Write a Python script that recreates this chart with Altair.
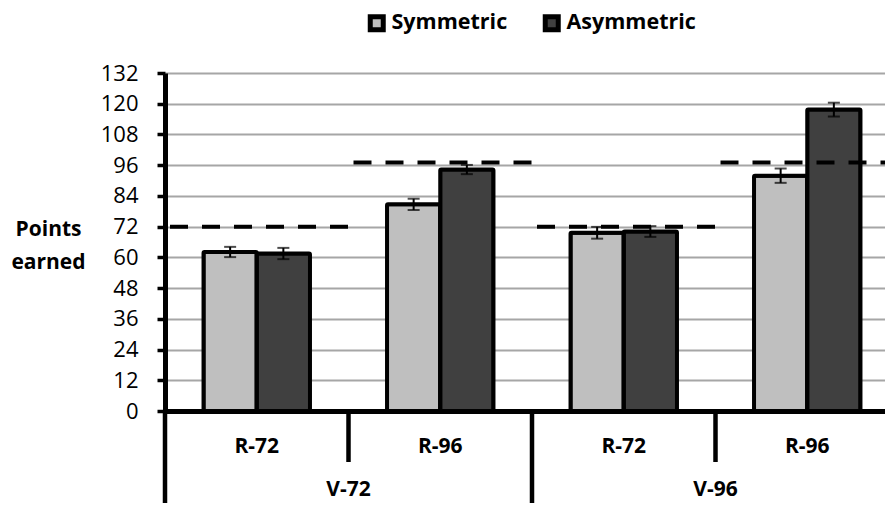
import altair as alt
import pandas as pd

# ---- data ----
v_groups = ["V-72", "V-72", "V-96", "V-96"]
r_levels = ["R-72", "R-96", "R-72", "R-96"]
series = ["Symmetric", "Asymmetric"]
sym_vals = [62.1, 80.7, 69.6, 91.9]
asym_vals = [61.5, 94.3, 70.1, 117.7]
sym_err = [2.0, 2.2, 2.3, 2.8]
asym_err = [2.2, 1.8, 2.1, 2.7]
targets = [72, 97, 72, 97]
y_ticks = [0, 12, 24, 36, 48, 60, 72, 84, 96, 108, 120, 132]
colors = ["#BFBFBF", "#404040"]

cats = [f"{v}|{r}" for v, r in zip(v_groups, r_levels)]

rows = []
for i, c in enumerate(cats):
    for s, vals, errs in (("Symmetric", sym_vals, sym_err), ("Asymmetric", asym_vals, asym_err)):
        rows.append(dict(cat=c, series=s, value=vals[i], lo=vals[i] - errs[i], hi=vals[i] + errs[i]))
bars_df = pd.DataFrame(rows)
cat_df = pd.DataFrame(dict(cat=cats, v=v_groups, r=r_levels, target=targets))
first_df = cat_df.drop_duplicates("v", keep="first")
long_sep = cat_df[cat_df["r"] == r_levels[0]]
short_sep = cat_df[cat_df["r"] != r_levels[0]]

W, H = 720, 338
PAD_BOTTOM = 92
FONT = "Open Sans"

# the category axis runs a little past the right edge, as in the reference
xs = alt.Scale(domain=cats, paddingInner=0, paddingOuter=0, range=[0, 734])
xo = alt.Scale(domain=series, paddingInner=0, paddingOuter=0.724)
ys = alt.Scale(domain=[0, 132], nice=False, zero=True)

x_axis = alt.Axis(labels=False, ticks=False, title=None, grid=False,
                  domain=True, domainColor="black", domainWidth=5)
y_axis = alt.Axis(values=y_ticks, tickSize=8, tickWidth=3.5, tickColor="black",
                  domainColor="black", domainWidth=5, grid=True, gridColor="#A6A6A6",
                  gridWidth=2, labelFontSize=22, labelFont=FONT, labelColor="black",
                  labelPadding=19, labelOverlap=False,
                  title=["Points", "earned"], titleAngle=0,
                  titleFont=FONT, titleFontSize=21, titleFontWeight="bold",
                  titleColor="black", titleX=-117, titleY=162, titleAlign="center",
                  titleBaseline="alphabetic", titleLineHeight=33)

X = alt.X("cat:N", scale=xs, axis=x_axis, sort=cats)
XO = alt.XOffset("series:N", scale=xo, sort=series)

bars = alt.Chart(bars_df).mark_bar(stroke="black", strokeWidth=4, cornerRadius=1).encode(
    x=X, xOffset=XO,
    y=alt.Y("value:Q", scale=ys, axis=y_axis),
    color=alt.Color("series:N", sort=series,
                    scale=alt.Scale(domain=series, range=colors),
                    legend=alt.Legend(orient="none", legendX=201, legendY=-61,
                                      direction="horizontal", title=None,
                                      symbolType="square", symbolSize=169,
                                      symbolStrokeColor="black", symbolStrokeWidth=5,
                                      symbolOpacity=1, labelLimit=400,
                                      labelFont=FONT, labelFontSize=21.5,
                                      labelFontWeight="bold", labelColor="black",
                                      labelOffset=4, columnPadding=27, padding=0)),
)

dashes = alt.Chart(cat_df).mark_rule(color="black", strokeWidth=4, strokeDash=[18, 14],
                                     xOffset=5, x2Offset=5).encode(
    x=alt.X("cat:N", scale=xs, axis=x_axis, bandPosition=0, sort=cats),
    x2=alt.X2("cat:N", bandPosition=1),
    y=alt.Y("target:Q", scale=ys, axis=y_axis),
)

err = alt.Chart(bars_df).mark_rule(color="black", strokeWidth=2).encode(
    x=X, xOffset=XO, y=alt.Y("lo:Q", scale=ys, axis=y_axis), y2="hi:Q")
cap_lo = alt.Chart(bars_df).mark_tick(color="black", thickness=2, size=12,
                                      orient="horizontal").encode(
    x=X, xOffset=XO, y=alt.Y("lo:Q", scale=ys, axis=y_axis))
cap_hi = alt.Chart(bars_df).mark_tick(color="black", thickness=2, size=12,
                                      orient="horizontal").encode(
    x=X, xOffset=XO, y=alt.Y("hi:Q", scale=ys, axis=y_axis))

seps_long = alt.Chart(long_sep).mark_rule(color="black", strokeWidth=4.5).encode(
    x=alt.X("cat:N", scale=xs, axis=x_axis, bandPosition=0, sort=cats),
    y=alt.value(H), y2=alt.value(H + PAD_BOTTOM))
seps_short = alt.Chart(short_sep).mark_rule(color="black", strokeWidth=4.5).encode(
    x=alt.X("cat:N", scale=xs, axis=x_axis, bandPosition=0, sort=cats),
    y=alt.value(H), y2=alt.value(H + 51))

r_text = alt.Chart(cat_df).mark_text(font=FONT, fontSize=21, fontWeight="bold",
                                     baseline="middle", color="black").encode(
    x=alt.X("cat:N", scale=xs, axis=x_axis, sort=cats), y=alt.value(H + 36), text="r:N")
v_text = alt.Chart(first_df).mark_text(font=FONT, fontSize=21, fontWeight="bold",
                                       baseline="middle", color="black").encode(
    x=alt.X("cat:N", scale=xs, axis=x_axis, bandPosition=1, sort=cats),
    y=alt.value(H + 79), text="v:N")

chart = alt.layer(bars, dashes, err, cap_lo, cap_hi, seps_long, seps_short, r_text, v_text).properties(
    width=W, height=H,
    autosize=alt.AutoSizeParams(type="none"),
    padding={"left": 157, "top": 65, "right": 0, "bottom": PAD_BOTTOM},
    background="white",
).configure_view(stroke=None)

chart.save("out.html", embed_options={"renderer": "svg", "actions": False})
